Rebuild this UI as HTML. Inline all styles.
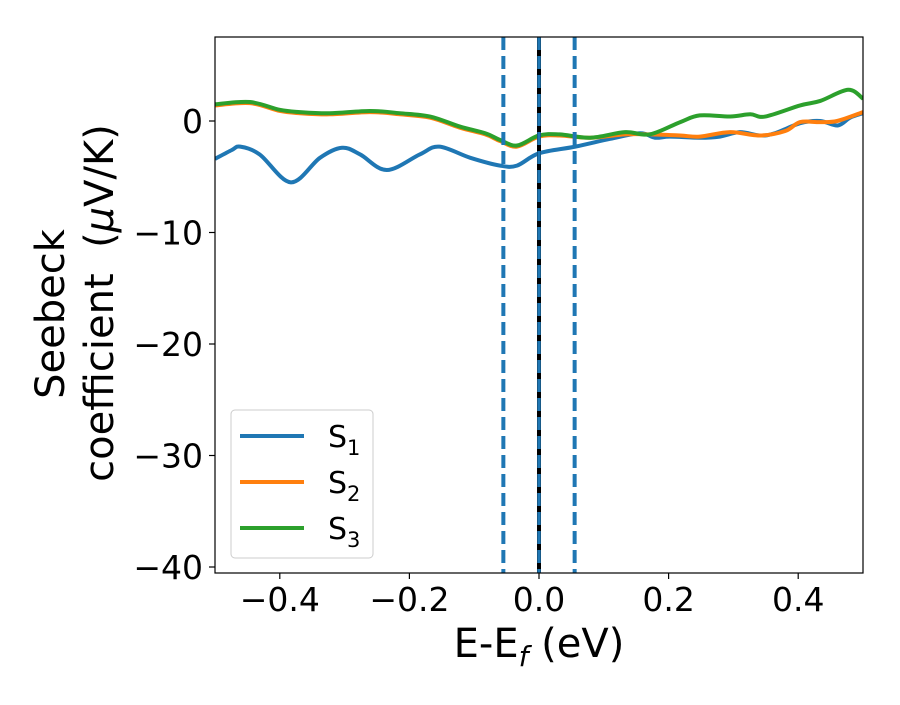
<!DOCTYPE html>
<html><head><meta charset="utf-8"><style>body{margin:0;background:#fff}svg{font-family:"DejaVu Sans","Liberation Sans",sans-serif}</style></head>
<body>
<svg id="c" width="900" height="700"></svg>
<script>
const blueX=[-0.5,-0.474,-0.461,-0.431,-0.383,-0.338,-0.304,-0.276,-0.235,-0.184,-0.154,-0.106,-0.06,-0.034,0,0.056,0.11,0.156,0.179,0.202,0.248,0.279,0.31,0.341,0.364,0.403,0.434,0.461,0.48,0.5];
const blueY=[-3.4,-2.6,-2.3,-3.0,-5.5,-3.3,-2.4,-3.0,-4.4,-3.0,-2.3,-3.3,-4.0,-4.0,-2.9,-2.3,-1.6,-1.1,-1.5,-1.4,-1.5,-1.4,-1.0,-1.3,-1.1,-0.2,0,-0.4,0.3,0.7];
const greenX=[-0.5,-0.446,-0.4,-0.369,-0.323,-0.261,-0.215,-0.168,-0.122,-0.083,-0.06,-0.034,0,0.032,0.079,0.133,0.171,0.218,0.248,0.295,0.326,0.349,0.403,0.434,0.477,0.5];
const greenY=[1.5,1.7,1.0,0.8,0.7,0.9,0.7,0.4,-0.5,-1.1,-1.7,-2.2,-1.3,-1.2,-1.5,-1.0,-1.2,-0.1,0.5,0.4,0.6,0.4,1.4,1.8,2.8,2.0];
const orangeX=[-0.5,-0.446,-0.4,-0.369,-0.323,-0.261,-0.215,-0.168,-0.122,-0.083,-0.06,-0.034,0,0.032,0.079,0.133,0.171,0.218,0.248,0.295,0.341,0.38,0.403,0.434,0.46,0.5];
const orangeY=[1.4,1.6,0.9,0.7,0.6,0.8,0.6,0.3,-0.6,-1.2,-1.8,-2.3,-1.4,-1.3,-1.5,-1.2,-1.2,-1.3,-1.4,-1.0,-1.3,-0.9,-0.1,-0.1,0.0,0.8];
const xTicks=[-0.4,-0.2,0.0,0.2,0.4];
const xTickLabels=["\u22120.4","\u22120.2","0.0","0.2","0.4"];
const yTicks=[0,-10,-20,-30,-40];
const yTickLabels=["0","\u221210","\u221220","\u221230","\u221240"];
const vLines=[-0.055,0.055];
const L=215,R=863,T=37,B=573;
const sx=v=>L+(v+0.5)*(R-L);
const sy=v=>121-v*11.15;
const svg=document.getElementById('c');const NS='http://www.w3.org/2000/svg';
function mk(t,a,p){const e=document.createElementNS(NS,t);for(const k in a)e.setAttribute(k,a[k]);(p||svg).appendChild(e);return e;}
function path(xs,ys){const p=xs.map((x,i)=>[sx(x),sy(ys[i])]);let d='M'+p[0][0]+','+p[0][1];
for(let i=0;i<p.length-1;i++){const p0=p[i-1]||p[i],p1=p[i],p2=p[i+1],p3=p[i+2]||p2;
d+=' C'+(p1[0]+(p2[0]-p0[0])/6)+','+(p1[1]+(p2[1]-p0[1])/6)+' '+(p2[0]-(p3[0]-p1[0])/6)+','+(p2[1]-(p3[1]-p1[1])/6)+' '+p2[0]+','+p2[1];}return d;}
mk('defs',{}).innerHTML='<clipPath id="cp"><rect x="215" y="37" width="648" height="536"/></clipPath>';
const g=mk('g',{'clip-path':'url(#cp)'});
let e;
e=mk('path',{d:path(blueX,blueY),fill:'none',stroke:'#1f77b4','stroke-width':4},g);

e=mk('path',{d:path(orangeX,orangeY),fill:'none',stroke:'#ff7f0e','stroke-width':4},g);

e=mk('path',{d:path(greenX,greenY),fill:'none',stroke:'#2ca02c','stroke-width':4},g);

e=mk('line',{x1:sx(0),x2:sx(0),y1:T,y2:B,stroke:'#000','stroke-width':4});

e=mk('line',{x1:sx(0),x2:sx(0),y1:T,y2:B,stroke:'#1f77b4','stroke-width':3.5,'stroke-dasharray':'13 6'});

vLines.forEach(v=>{e=mk('line',{x1:sx(v),x2:sx(v),y1:T,y2:B,stroke:'#1f77b4','stroke-width':4,'stroke-dasharray':'13 6'});
});
e=mk('rect',{x:L,y:T,width:R-L,height:B-T,fill:'none',stroke:'#000','stroke-width':1.2});

xTicks.forEach((v,i)=>{mk('line',{x1:sx(v),x2:sx(v),y1:B,y2:B+6,stroke:'#000','stroke-width':1.2});
e=mk('text',{x:sx(v),y:611,'text-anchor':'middle','font-size':33});e.textContent=xTickLabels[i];
});
yTicks.forEach((v,i)=>{mk('line',{x1:L-6,x2:L,y1:sy(v),y2:sy(v),stroke:'#000','stroke-width':1.2});
e=mk('text',{x:L-12,y:sy(v)+12,'text-anchor':'end','font-size':33});e.textContent=yTickLabels[i];
});
e=mk('text',{x:539,y:657,'text-anchor':'middle','font-size':40});
e.innerHTML='E-E<tspan font-size="28" font-style="italic" dy="9">f</tspan><tspan dy="-9"> (eV)</tspan>';

e=mk('text',{transform:'translate(64,314) rotate(-90)','text-anchor':'middle','font-size':40});e.textContent='Seebeck';

e=mk('text',{transform:'translate(113,303) rotate(-90)','text-anchor':'middle','font-size':40});
e.innerHTML='coefficient\u00a0\u00a0(<tspan font-style="italic">μ</tspan>V/K)';

const lg=mk('g',{});
mk('rect',{x:231,y:410,width:142,height:148,rx:4,fill:'#fff','fill-opacity':0.8,stroke:'#ccc'},lg);
const names=['1','2','3'],cols=['#1f77b4','#ff7f0e','#2ca02c'];
names.forEach((n,i)=>{const y=436+i*46;
e=mk('line',{x1:240,x2:304,y1:y,y2:y,stroke:cols[i],'stroke-width':4},lg);

e=mk('text',{x:328,y:y+11,'font-size':30},lg);e.innerHTML='S<tspan font-size="21" dy="8">'+n+'</tspan>';
});
</script>
</body></html>
